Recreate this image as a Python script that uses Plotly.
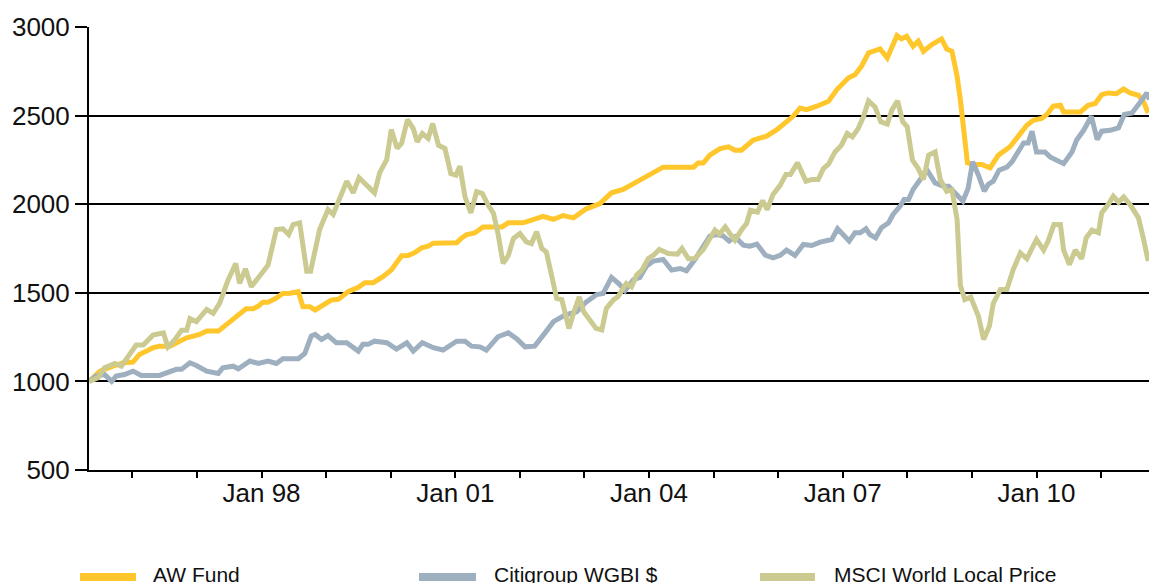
import plotly.graph_objects as go
import pandas as pd

# ---------------- data (decimal years, index values) ----------------
aw_t = [1995.33, 1995.50, 1995.70, 1995.86, 1996.01, 1996.11, 1996.22, 1996.32, 1996.42, 1996.58,
        1996.73, 1996.84, 1997.04, 1997.15, 1997.33, 1997.46, 1997.59, 1997.66, 1997.76, 1997.87,
        1997.95, 1998.02, 1998.10, 1998.21, 1998.33, 1998.44, 1998.57, 1998.64, 1998.75, 1998.83,
        1998.98, 1999.08, 1999.19, 1999.34, 1999.50, 1999.60, 1999.73, 1999.88, 2000.01, 2000.17,
        2000.27, 2000.37, 2000.48, 2000.58, 2000.66, 2001.02, 2001.10, 2001.18, 2001.30, 2001.43,
        2001.72, 2001.82, 2002.05, 2002.21, 2002.36, 2002.52, 2002.67, 2002.83, 2002.93, 2003.03,
        2003.24, 2003.42, 2003.60, 2003.76, 2003.91, 2004.07, 2004.22, 2004.69, 2004.76, 2004.84,
        2004.94, 2005.10, 2005.23, 2005.33, 2005.43, 2005.61, 2005.82, 2005.98, 2006.13, 2006.23,
        2006.34, 2006.44, 2006.60, 2006.78, 2006.91, 2007.09, 2007.19, 2007.29, 2007.40, 2007.58,
        2007.69, 2007.84, 2007.91, 2007.99, 2008.09, 2008.17, 2008.25, 2008.38, 2008.53, 2008.61,
        2008.69, 2008.77, 2008.82, 2008.88, 2008.93, 2009.02, 2009.15, 2009.28, 2009.41, 2009.59,
        2009.72, 2009.85, 2009.95, 2010.08, 2010.16, 2010.26, 2010.37, 2010.42, 2010.68, 2010.80,
        2010.91, 2011.01, 2011.11, 2011.24, 2011.35, 2011.45, 2011.58, 2011.66, 2011.73]
aw_v = [1000, 1058, 1086, 1105, 1109, 1152, 1171, 1190, 1199, 1199,
        1227, 1246, 1265, 1284, 1284, 1322, 1359, 1378, 1410, 1410,
        1425, 1447, 1447, 1466, 1496, 1497, 1506, 1422, 1421, 1403,
        1441, 1459, 1463, 1506, 1531, 1557, 1557, 1591, 1629, 1709,
        1711, 1726, 1754, 1763, 1780, 1782, 1810, 1829, 1838, 1872,
        1872, 1895, 1895, 1914, 1932, 1914, 1936, 1923, 1951, 1974,
        2004, 2064, 2083, 2115, 2139, 2177, 2209, 2209, 2233, 2233,
        2277, 2314, 2324, 2305, 2305, 2361, 2384, 2421, 2468, 2496,
        2543, 2534, 2553, 2581, 2647, 2713, 2731, 2778, 2854, 2876,
        2825, 2951, 2933, 2948, 2891, 2920, 2863, 2901, 2933, 2876,
        2863, 2722, 2590, 2365, 2233, 2224, 2224, 2205, 2277, 2324,
        2380, 2446, 2474, 2484, 2506, 2553, 2558, 2521, 2521, 2558,
        2568, 2618, 2628, 2624, 2650, 2628, 2615, 2577, 2515]

wgbi_t = [1995.33, 1995.44, 1995.57, 1995.68, 1995.75, 1995.88, 1996.01, 1996.14, 1996.42, 1996.58,
          1996.68, 1996.76, 1996.89, 1996.99, 1997.15, 1997.33, 1997.40, 1997.56, 1997.64, 1997.82,
          1997.95, 1998.10, 1998.23, 1998.33, 1998.57, 1998.67, 1998.77, 1998.83, 1998.93, 1999.03,
          1999.16, 1999.32, 1999.50, 1999.57, 1999.65, 1999.75, 1999.94, 2000.09, 2000.25, 2000.35,
          2000.49, 2000.66, 2000.81, 2001.02, 2001.15, 2001.25, 2001.38, 2001.48, 2001.66, 2001.82,
          2001.95, 2002.08, 2002.23, 2002.39, 2002.52, 2002.70, 2002.88, 2003.03, 2003.19, 2003.29,
          2003.42, 2003.54, 2003.63, 2003.76, 2003.86, 2003.96, 2004.07, 2004.22, 2004.35, 2004.48,
          2004.58, 2004.71, 2004.84, 2004.94, 2005.05, 2005.15, 2005.24, 2005.33, 2005.46, 2005.56,
          2005.67, 2005.80, 2005.92, 2006.03, 2006.13, 2006.26, 2006.39, 2006.52, 2006.65, 2006.83,
          2006.92, 2007.10, 2007.19, 2007.27, 2007.36, 2007.42, 2007.51, 2007.60, 2007.71, 2007.78,
          2007.89, 2007.95, 2008.02, 2008.09, 2008.20, 2008.30, 2008.43, 2008.56, 2008.64, 2008.71,
          2008.86, 2008.94, 2009.01, 2009.10, 2009.19, 2009.25, 2009.33, 2009.42, 2009.54, 2009.62,
          2009.69, 2009.80, 2009.87, 2009.93, 2010.00, 2010.13, 2010.21, 2010.31, 2010.42, 2010.55,
          2010.62, 2010.73, 2010.85, 2010.94, 2011.01, 2011.14, 2011.27, 2011.36, 2011.48, 2011.58,
          2011.71, 2011.75]
wgbi_v = [1000, 1030, 1039, 1000, 1030, 1039, 1058, 1034, 1034, 1058,
          1068, 1068, 1105, 1090, 1058, 1045, 1077, 1086, 1071, 1115,
          1101, 1115, 1101, 1128, 1128, 1158, 1256, 1265, 1237, 1259,
          1218, 1218, 1171, 1209, 1209, 1227, 1218, 1182, 1218, 1171,
          1218, 1190, 1177, 1227, 1227, 1199, 1195, 1177, 1252, 1274,
          1241, 1195, 1199, 1274, 1337, 1374, 1393, 1449, 1490, 1496,
          1587, 1549, 1512, 1575, 1587, 1650, 1679, 1688, 1628, 1637,
          1624, 1688, 1769, 1820, 1829, 1820, 1792, 1816, 1769, 1763,
          1775, 1713, 1697, 1711, 1741, 1711, 1773, 1767, 1786, 1801,
          1861, 1792, 1839, 1839, 1861, 1829, 1810, 1867, 1895, 1942,
          1989, 2026, 2026, 2083, 2139, 2196, 2120, 2102, 2102, 2073,
          2017, 2089, 2239, 2164, 2073, 2111, 2130, 2192, 2209, 2239,
          2286, 2346, 2346, 2412, 2295, 2295, 2267, 2252, 2229, 2295,
          2361, 2417, 2496, 2365, 2412, 2417, 2431, 2506, 2515, 2562,
          2628, 2590]

msci_t = [1995.33, 1995.47, 1995.57, 1995.73, 1995.83, 1995.96, 1996.06, 1996.17, 1996.32, 1996.48,
          1996.55, 1996.66, 1996.76, 1996.84, 1996.89, 1996.99, 1997.15, 1997.25, 1997.35, 1997.48,
          1997.60, 1997.66, 1997.75, 1997.84, 1997.97, 1998.10, 1998.23, 1998.33, 1998.42, 1998.49,
          1998.59, 1998.70, 1998.76, 1998.90, 1999.03, 1999.11, 1999.32, 1999.42, 1999.51, 1999.63,
          1999.75, 1999.83, 1999.94, 2000.01, 2000.10, 2000.17, 2000.26, 2000.35, 2000.41, 2000.49,
          2000.58, 2000.65, 2000.74, 2000.84, 2000.93, 2001.01, 2001.07, 2001.15, 2001.24, 2001.33,
          2001.42, 2001.51, 2001.59, 2001.66, 2001.74, 2001.82, 2001.90, 2002.00, 2002.10, 2002.18,
          2002.26, 2002.34, 2002.41, 2002.49, 2002.57, 2002.65, 2002.76, 2002.83, 2002.92, 2002.99,
          2003.09, 2003.18, 2003.27, 2003.34, 2003.45, 2003.52, 2003.65, 2003.73, 2003.81, 2003.89,
          2003.99, 2004.07, 2004.16, 2004.30, 2004.44, 2004.51, 2004.61, 2004.71, 2004.84, 2004.92,
          2005.02, 2005.09, 2005.18, 2005.25, 2005.33, 2005.43, 2005.51, 2005.57, 2005.68, 2005.76,
          2005.83, 2005.92, 2006.03, 2006.12, 2006.19, 2006.30, 2006.43, 2006.52, 2006.62, 2006.70,
          2006.78, 2006.88, 2006.98, 2007.07, 2007.15, 2007.24, 2007.32, 2007.40, 2007.50, 2007.59,
          2007.69, 2007.76, 2007.85, 2007.93, 2008.00, 2008.08, 2008.17, 2008.25, 2008.33, 2008.43,
          2008.51, 2008.61, 2008.69, 2008.77, 2008.82, 2008.89, 2008.98, 2009.10, 2009.18, 2009.27,
          2009.33, 2009.44, 2009.54, 2009.64, 2009.75, 2009.85, 2010.00, 2010.11, 2010.18, 2010.27,
          2010.37, 2010.42, 2010.51, 2010.60, 2010.70, 2010.77, 2010.86, 2010.96, 2011.01, 2011.11,
          2011.19, 2011.27, 2011.35, 2011.45, 2011.58, 2011.66, 2011.73]
msci_v = [1000, 1021, 1077, 1101, 1086, 1152, 1205, 1205, 1261, 1274,
          1194, 1237, 1288, 1288, 1355, 1337, 1406, 1384, 1440, 1571,
          1665, 1553, 1635, 1534, 1594, 1656, 1857, 1861, 1829, 1885,
          1895, 1622, 1622, 1857, 1970, 1942, 2130, 2064, 2149, 2111,
          2064, 2177, 2252, 2421, 2316, 2344, 2478, 2427, 2352, 2399,
          2371, 2455, 2333, 2314, 2173, 2164, 2214, 2042, 1951, 2071,
          2060, 1994, 1949, 1836, 1666, 1709, 1807, 1835, 1788, 1778,
          1844, 1750, 1731, 1600, 1468, 1462, 1299, 1383, 1477, 1393,
          1337, 1299, 1290, 1412, 1460, 1478, 1553, 1534, 1600, 1628,
          1694, 1712, 1744, 1722, 1718, 1750, 1692, 1694, 1744, 1788,
          1854, 1831, 1872, 1835, 1797, 1854, 1891, 1966, 1956, 2020,
          1970, 2055, 2106, 2168, 2168, 2233, 2130, 2139, 2139, 2201,
          2226, 2295, 2333, 2399, 2380, 2427, 2493, 2583, 2549, 2465,
          2452, 2531, 2583, 2465, 2437, 2249, 2201, 2139, 2277, 2295,
          2139, 2073, 2081, 1914, 1543, 1462, 1476, 1368, 1237, 1312,
          1440, 1519, 1519, 1632, 1725, 1692, 1801, 1741, 1792, 1885,
          1885, 1741, 1660, 1741, 1692, 1810, 1854, 1839, 1951, 1998,
          2045, 2011, 2041, 1998, 1923, 1801, 1679]

series_names = ["AW Fund", "Citigroup WGBI $", "MSCI World Local Price"]
series_colors = ["#FFC72C", "#9EAFC0", "#CACA91"]

y_ticks = [500, 1000, 1500, 2000, 2500, 3000]
x_tick_years = list(range(1996, 2012))
x_label_years = {1998: "Jan 98", 2001: "Jan 01", 2004: "Jan 04", 2007: "Jan 07", 2010: "Jan 10"}
x_range_years = [1995.329, 2011.743]


def to_date(y):
    year = int(y)
    start = pd.Timestamp(year=year, month=1, day=1)
    end = pd.Timestamp(year=year + 1, month=1, day=1)
    return start + (end - start) * (y - year)


FONT = "Liberation Sans, Arial, Helvetica, sans-serif"

fig = go.Figure()
for name, t, v, c in zip(series_names, [aw_t, wgbi_t, msci_t], [aw_v, wgbi_v, msci_v], series_colors):
    fig.add_trace(go.Scatter(x=[to_date(a) for a in t], y=v, mode="lines", name=name,
                             line=dict(color=c, width=5), showlegend=False))

fig.update_layout(
    width=1149, height=583,
    margin=dict(l=89, r=0, t=27, b=113),
    paper_bgcolor="white", plot_bgcolor="white",
    font=dict(family=FONT, color="#111111"),
)
fig.update_yaxes(
    range=[500, 3000], tickvals=y_ticks, ticktext=[str(v) for v in y_ticks],
    showgrid=True, gridcolor="black", gridwidth=2,
    showline=True, linecolor="black", linewidth=2,
    ticks="outside", ticklen=12, tickwidth=2, tickcolor="black",
    zeroline=False, tickfont=dict(size=26, family=FONT, color="#111111"),
)
fig.update_xaxes(
    type="date", range=[to_date(x_range_years[0]), to_date(x_range_years[1])],
    tickvals=[to_date(y) for y in x_tick_years],
    ticktext=[x_label_years.get(y, "") for y in x_tick_years],
    showgrid=False, showline=True, linecolor="black", linewidth=2,
    ticks="outside", ticklen=6, tickwidth=2, tickcolor="black", ticklabelstandoff=-7,
    zeroline=False, tickfont=dict(size=26, family=FONT, color="#111111"),
)

# manual legend (long swatches, as in the reference)
plot_h = 583 - 27 - 113
plot_w = 1149 - 89
legend_swatches = [(80, 136), (419, 476), (760, 815)]
legend_text_x = [151, 492, 832]
sw_y = (470 - 577) / plot_h
for (x0, x1), tx, name, c in zip(legend_swatches, legend_text_x, series_names, series_colors):
    fig.add_shape(type="line", xref="paper", yref="paper",
                  x0=(x0 - 89) / plot_w, x1=(x1 - 89) / plot_w, y0=sw_y, y1=sw_y,
                  line=dict(color=c, width=8))
    fig.add_annotation(xref="paper", yref="paper", x=(tx - 89) / plot_w, y=(470 - 574) / plot_h,
                       text=name, showarrow=False, xanchor="left", yanchor="middle",
                       font=dict(size=21, family=FONT, color="#111111"))

fig.write_html("out.html", config={"displayModeBar": False},
               post_script="document.body.style.margin='0px';")
